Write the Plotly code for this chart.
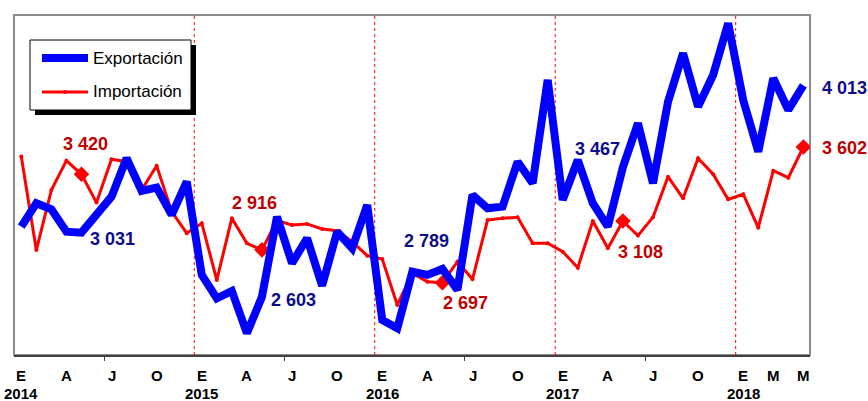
import plotly.graph_objects as go

# ---------------- data ----------------
month_letters = ["E", "F", "M", "A", "M", "J", "J", "A", "S", "O", "N", "D"]
years = [2014, 2015, 2016, 2017, 2018]

exportacion = [3071, 3227, 3187, 3037, 3031, 3149, 3271, 3527, 3309, 3331, 3149, 3371,
               2749, 2593, 2642, 2360, 2603, 3137, 2827, 2993, 2677, 3037, 2927, 3215,
               2449, 2393, 2771, 2749, 2789, 2649, 3282, 3193, 3204, 3504, 3360, 4049,
               3249, 3515, 3227, 3071, 3467, 3760, 3360, 3904, 4227, 3871, 4082, 4427,
               3915, 3571, 4060, 3849, 4013]

importacion = [3538, 2915, 3315, 3511, 3420, 3231, 3520, 3504, 3315, 3477, 3171, 3027,
               3093, 2715, 3127, 2960, 2916, 3111, 3082, 3089, 3055, 3044, 2971, 2877,
               2855, 2549, 2760, 2704, 2697, 2837, 2720, 3115, 3127, 3133, 2960, 2960,
               2904, 2797, 3109, 2927, 3108, 3011, 3133, 3404, 3260, 3527, 3420, 3253,
               3287, 3064, 3444, 3397, 3602]

highlight_idx = [4, 16, 28, 40, 52]          # May of each year (labelled points)
tick_idx = [i for i in range(0, 49, 3)] + [50, 52]
tick_text = [month_letters[i % 12] for i in tick_idx]
year_idx = [12 * k for k in range(len(years))]

# ---------------- styles ----------------
W, H = 868, 401
ML, MR, MT, MB = 14, 58, 15, 46
PW, PH = W - ML - MR, H - MT - MB
BLUE, RED = "#0000FF", "#FF0000"
DBLUE, DRED = "#0D0D8C", "#C00000"
FONT = "Liberation Sans, Arial, sans-serif"

def X(px):
    return (px - ML) / PW

def Y(py):
    return (MT + PH - py) / PH

n = len(exportacion)
x = list(range(n))

fig = go.Figure()

fig.add_trace(go.Scatter(
    x=x, y=importacion, mode="lines+markers", name="Importación",
    line=dict(color=RED, width=3),
    marker=dict(color=RED, opacity=1,
                size=[12 if i in highlight_idx else 4 for i in x],
                symbol=["diamond" if i in highlight_idx else "circle" for i in x],
                line=dict(width=0)),
    showlegend=False, hoverinfo="skip"))

fig.add_trace(go.Scatter(
    x=x, y=exportacion, mode="lines", name="Exportación",
    line=dict(color=BLUE, width=8),
    showlegend=False, hoverinfo="skip"))

shapes = []
# frame
shapes.append(dict(type="rect", xref="paper", yref="paper", x0=0, x1=1, y0=0, y1=1,
                   line=dict(color="#8C8C8C", width=2), layer="below"))
# year separators
for k in range(1, len(years)):
    xv = 12 * k - 0.5
    shapes.append(dict(type="line", xref="x", yref="paper", x0=xv, x1=xv, y0=0, y1=1,
                       line=dict(color=RED, width=1, dash="dot"), layer="below"))

# manual legend
shapes.append(dict(type="rect", xref="paper", yref="paper",
                   x0=X(35), x1=X(196), y0=Y(115), y1=Y(45),
                   fillcolor="black", line=dict(width=0), layer="above"))
shapes.append(dict(type="rect", xref="paper", yref="paper",
                   x0=X(30), x1=X(191), y0=Y(110), y1=Y(40),
                   fillcolor="white", line=dict(color="black", width=1), layer="above"))
shapes.append(dict(type="line", xref="paper", yref="paper",
                   x0=X(42), x1=X(88), y0=Y(58), y1=Y(58),
                   line=dict(color=BLUE, width=8), layer="above"))
shapes.append(dict(type="line", xref="paper", yref="paper",
                   x0=X(42), x1=X(88), y0=Y(92), y1=Y(92),
                   line=dict(color=RED, width=3), layer="above"))
shapes.append(dict(type="circle", xref="paper", yref="paper",
                   x0=X(63), x1=X(67), y0=Y(94), y1=Y(90),
                   fillcolor=RED, line=dict(width=0), layer="above"))

annotations = []
annotations.append(dict(xref="paper", yref="paper", x=X(91), y=Y(58), text="Exportación",
                        showarrow=False, xanchor="left", yanchor="middle",
                        font=dict(family=FONT, size=17, color="black")))
annotations.append(dict(xref="paper", yref="paper", x=X(91), y=Y(92), text="Importación",
                        showarrow=False, xanchor="left", yanchor="middle",
                        font=dict(family=FONT, size=17, color="black")))

# tick labels
for i, t in zip(tick_idx, tick_text):
    annotations.append(dict(x=i, xref="x", y=0, yref="paper", text=t, showarrow=False,
                            xanchor="center", yanchor="middle", yshift=-20,
                            font=dict(family=FONT, size=15, color="black", weight="bold")))
for i, yr in zip(year_idx, years):
    annotations.append(dict(x=i, xref="x", y=0, yref="paper", text=str(yr), showarrow=False,
                            xanchor="center", yanchor="middle", yshift=-38,
                            font=dict(family=FONT, size=15, color="black", weight="bold")))

# value labels (offsets in pixels)
exp_offsets = [(31, -6), (32, -3), (-16, 28), (-25, 18), (41, -3)]
imp_offsets = [(4, 30), (-7, 47), (23, -20), (18, -31), (41, -1)]

def fmt(v):
    return f"{v:,}".replace(",", " ")

for i, (dx, dy) in zip(highlight_idx, exp_offsets):
    annotations.append(dict(x=i, y=exportacion[i], xref="x", yref="y", text=fmt(exportacion[i]),
                            showarrow=False, xshift=dx, yshift=dy,
                            xanchor="center", yanchor="middle",
                            font=dict(family=FONT, size=18, color=DBLUE, weight="bold")))
for i, (dx, dy) in zip(highlight_idx, imp_offsets):
    annotations.append(dict(x=i, y=importacion[i], xref="x", yref="y", text=fmt(importacion[i]),
                            showarrow=False, xshift=dx, yshift=dy,
                            xanchor="center", yanchor="middle",
                            font=dict(family=FONT, size=18, color=DRED, weight="bold")))

fig.update_layout(
    width=W, height=H,
    margin=dict(l=ML, r=MR, t=MT, b=MB, pad=0),
    paper_bgcolor="white", plot_bgcolor="white",
    shapes=shapes, annotations=annotations,
    xaxis=dict(range=[-0.485, 52.44], showgrid=False, zeroline=False,
               showline=True, linecolor="#404040", linewidth=2,
               tickvals=[12 * k + 5.5 for k in range(4)], ticks="outside",
               ticklen=4, tickcolor="#404040", tickwidth=1,
               showticklabels=False, fixedrange=True),
    yaxis=dict(range=[2215, 4482], showgrid=False, zeroline=False,
               showline=False, showticklabels=False, ticks="", fixedrange=True),
)

fig.write_html("out.html", config={"displayModeBar": False},
               post_script="document.body.style.margin='0';document.body.style.overflow='hidden';")
